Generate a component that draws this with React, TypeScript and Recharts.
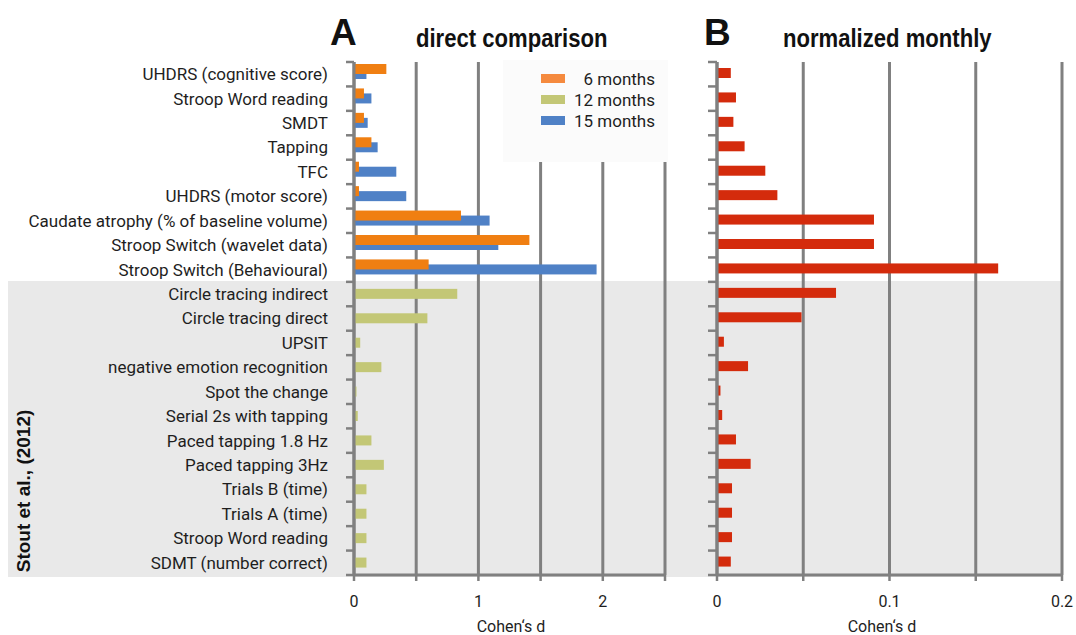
import React from 'react';
import { BarChart, Bar, XAxis, YAxis, CartesianGrid, Legend } from 'recharts';

const categories = [
  'UHDRS (cognitive score)',
  'Stroop Word reading',
  'SMDT',
  'Tapping',
  'TFC',
  'UHDRS (motor score)',
  'Caudate atrophy (% of baseline volume)',
  'Stroop Switch (wavelet data)',
  'Stroop Switch (Behavioural)',
  'Circle tracing indirect',
  'Circle tracing direct',
  'UPSIT',
  'negative emotion recognition',
  'Spot the change',
  'Serial 2s with tapping',
  'Paced tapping 1.8 Hz',
  'Paced tapping 3Hz',
  'Trials B (time)',
  'Trials A (time)',
  'Stroop Word reading',
  'SDMT (number correct)',
];

const months6: (number | null)[] = [0.26, 0.08, 0.08, 0.14, 0.04, 0.04, 0.86, 1.41, 0.6, null, null, null, null, null, null, null, null, null, null, null, null];
const months12: (number | null)[] = [null, null, null, null, null, null, null, null, null, 0.83, 0.59, 0.05, 0.22, 0.02, 0.03, 0.14, 0.24, 0.1, 0.1, 0.1, 0.1];
const months15: (number | null)[] = [0.1, 0.14, 0.11, 0.19, 0.34, 0.42, 1.09, 1.16, 1.95, null, null, null, null, null, null, null, null, null, null, null, null];
const monthly: number[] = [0.008, 0.011, 0.0095, 0.016, 0.028, 0.035, 0.091, 0.091, 0.163, 0.069, 0.049, 0.004, 0.018, 0.002, 0.003, 0.011, 0.0195, 0.0087, 0.0087, 0.0087, 0.008];

const ticksA = [0, 0.5, 1, 1.5, 2, 2.5];
const ticksB = [0, 0.05, 0.1, 0.15, 0.2];
const seriesNames = ['6 months', '12 months', '15 months'];
const axisTitle = 'Cohen‘s d';

const C6 = '#f07f12';
const C6L = '#f58a3e';
const C12 = '#c3c776';
const C15 = '#4f81c6';
const CRED = '#d42b0c';
const AXIS = '#808080';
const TEXT = '#1e1e1e';
const FONT = 'Roboto, "Liberation Sans", sans-serif';
const TITLE_FONT = '"Liberation Sans", Arial, sans-serif';

const data = categories.map((name, i) => ({
  name,
  m6: months6[i],
  m12: months12[i],
  m15: months15[i],
  monthly: monthly[i],
}));

const makeShape = (shift: number) => (p: any) => {
  if (!p || !(p.width > 0) || !isFinite(p.y)) return <g />;
  return <rect x={p.x} y={p.y + shift} width={p.width} height={p.height} fill={p.fill} />;
};

const CatTick = (props: any) => {
  const { x, y, payload, index, visibleTicksCount, showText, tickLen } = props;
  const half = payload && typeof payload.offset === 'number' ? payload.offset : 0;
  const last = index === (visibleTicksCount ?? categories.length) - 1;
  return (
    <g>
      <line x1={x - tickLen} x2={x} y1={y - half} y2={y - half} stroke={AXIS} strokeWidth={2.5} />
      {last && <line x1={x - tickLen} x2={x} y1={y + half} y2={y + half} stroke={AXIS} strokeWidth={2.5} />}
      {showText && (
        <text x={x - 26} y={y} dy="0.35em" textAnchor="end" fontSize={17} fill={TEXT} fontFamily={FONT}>
          {categories[index]}
        </text>
      )}
    </g>
  );
};

const LegendBox = () => {
  const colors = [C6L, C12, C15];
  return (
    <div style={{ width: '100%', height: '100%', background: '#fbfbfb', paddingTop: 8, boxSizing: 'border-box', fontFamily: FONT }}>
      {seriesNames.map((n, i) => (
        <div key={n} style={{ display: 'flex', alignItems: 'center', height: 21 }}>
          <div style={{ marginLeft: 38, width: 24, height: 9, background: colors[i] }} />
          <div style={{ flex: 1, textAlign: 'right', paddingRight: 13, fontSize: 17, color: TEXT }}>{n}</div>
        </div>
      ))}
    </div>
  );
};

const fmtA = (v: number) => (Number.isInteger(v) ? String(v) : '');
const fmtB = (v: number) => (Math.abs(v * 10 - Math.round(v * 10)) < 1e-9 ? String(v) : '');

export default function App() {
  return (
    <div style={{ position: 'absolute', left: 0, top: 0, width: 1076, height: 635, background: '#fff', fontFamily: FONT, overflow: 'hidden' }}>
      <div style={{ position: 'absolute', left: 8, top: 281, width: 1055, height: 296, background: '#e9e9e9' }} />

      <div style={{ position: 'absolute', left: 0, top: 0 }}>
        <BarChart width={680} height={635} layout="vertical" data={data} margin={{ top: 62, right: 15, bottom: 0, left: 0 }}>
          <CartesianGrid horizontal={false} vertical={true} stroke={AXIS} strokeWidth={3} yAxisId="a_cat" />
          <XAxis
            type="number"
            domain={[0, 2.5]}
            ticks={ticksA}
            tickFormatter={fmtA}
            height={60}
            axisLine={{ stroke: AXIS, strokeWidth: 3 }}
            tickLine={{ stroke: AXIS, strokeWidth: 2.5 }}
            tickSize={6}
            tickMargin={15}
            tick={{ fontSize: 16, fill: TEXT, fontFamily: FONT }}
            interval={0}
          />
          <YAxis
            yAxisId="a_cat"
            type="category"
            dataKey="name"
            interval={0}
            width={354}
            tickSize={0}
            tickMargin={0}
            tickLine={false}
            axisLine={{ stroke: AXIS, strokeWidth: 3 }}
            tick={<CatTick showText tickLen={8} />}
          />
          <YAxis yAxisId="o" type="category" dataKey="name" hide width={0} />
          <YAxis yAxisId="g" type="category" dataKey="name" hide width={0} />
          <Legend
            layout="vertical"
            align="center"
            verticalAlign="middle"
            content={<LegendBox />}
            wrapperStyle={{ position: 'absolute', left: 503, top: 60, width: 165, height: 102 }}
          />
          <Bar yAxisId="a_cat" dataKey="m15" name="15 months" fill={C15} barSize={10} isAnimationActive={false} shape={makeShape(0)} />
          <Bar yAxisId="o" dataKey="m6" name="6 months" fill={C6} barSize={10} isAnimationActive={false} shape={makeShape(-5)} />
          <Bar yAxisId="g" dataKey="m12" name="12 months" fill={C12} barSize={10} isAnimationActive={false} shape={makeShape(0)} />
        </BarChart>
      </div>

      <div style={{ position: 'absolute', left: 680, top: 0 }}>
        <BarChart width={396} height={635} layout="vertical" data={data} margin={{ top: 62, right: 14, bottom: 0, left: 0 }}>
          <CartesianGrid horizontal={false} vertical={true} stroke={AXIS} strokeWidth={3} yAxisId="a_cat" />
          <XAxis
            type="number"
            domain={[0, 0.2]}
            ticks={ticksB}
            tickFormatter={fmtB}
            height={60}
            axisLine={{ stroke: AXIS, strokeWidth: 3 }}
            tickLine={{ stroke: AXIS, strokeWidth: 2.5 }}
            tickSize={6}
            tickMargin={15}
            tick={{ fontSize: 16, fill: TEXT, fontFamily: FONT }}
            interval={0}
          />
          <YAxis
            yAxisId="a_cat"
            type="category"
            dataKey="name"
            interval={0}
            width={37}
            tickSize={0}
            tickMargin={0}
            tickLine={false}
            axisLine={{ stroke: AXIS, strokeWidth: 3 }}
            tick={<CatTick tickLen={9} />}
          />
          <Bar yAxisId="a_cat" dataKey="monthly" name="normalized monthly" fill={CRED} barSize={10} isAnimationActive={false} shape={makeShape(-1)} />
        </BarChart>
      </div>

      <svg width={1076} height={635} style={{ position: 'absolute', left: 0, top: 0, pointerEvents: 'none' }}>
        <text x={330} y={45} fontSize={37} fontWeight="bold" fontFamily={TITLE_FONT} fill="#111">A</text>
        <text transform="translate(416,47) scale(0.85,1)" fontSize={26} fontWeight="bold" fontFamily={TITLE_FONT} fill="#111">direct comparison</text>
        <text x={704} y={45} fontSize={37} fontWeight="bold" fontFamily={TITLE_FONT} fill="#111">B</text>
        <text transform="translate(783,47) scale(0.85,1)" fontSize={26} fontWeight="bold" fontFamily={TITLE_FONT} fill="#111">normalized monthly</text>
        <text x={30} y={491} transform="rotate(-90, 30, 491)" textAnchor="middle" fontSize={19} fontWeight="bold" fontFamily={TITLE_FONT} fill="#111">Stout et al., (2012)</text>
        <text x={511} y={632} textAnchor="middle" fontSize={16} fill={TEXT} fontFamily={FONT}>{axisTitle}</text>
        <text x={882} y={632} textAnchor="middle" fontSize={16} fill={TEXT} fontFamily={FONT}>{axisTitle}</text>
      </svg>
    </div>
  );
}
